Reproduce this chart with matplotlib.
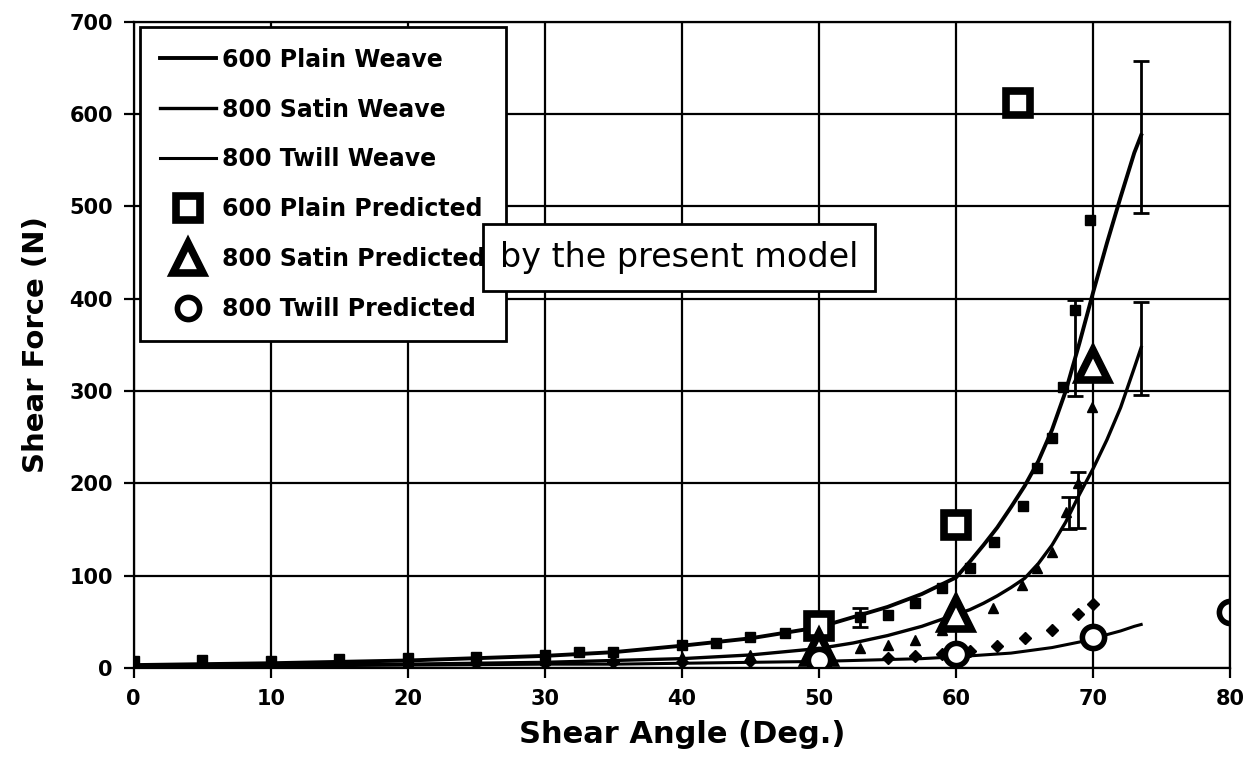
import matplotlib
matplotlib.use('Agg')
import matplotlib.pyplot as plt

plt.rcParams['font.family'] = ['DejaVu Sans']

# fitted curves
curve_x = [0, 10, 20, 30, 35, 40, 45, 50, 52.5, 55, 57.5, 60, 61, 62, 63, 64, 65, 66, 67, 68, 69, 70, 71, 72, 73, 73.5]
plain_fit = [3, 5, 8, 13, 17, 24, 32, 44, 55, 66, 80, 98, 115, 133, 152, 174, 197, 224, 258, 300, 352, 407, 460, 510, 558, 577]
satin_fit = [2, 3, 4, 6, 8, 10, 14, 21, 27, 35, 45, 58, 63, 70, 78, 87, 97, 113, 133, 158, 188, 216, 247, 282, 325, 347]
twill_fit = [1, 2, 3, 4, 4, 5, 6, 7, 8, 9, 10, 12, 13, 14, 15, 16, 18, 20, 22, 25, 28, 32, 36, 40, 45, 47]

# experimental points
plain_x = [0, 5, 10, 15, 20, 25, 30, 32.5, 35, 40, 42.5, 45, 47.5, 53, 55, 57, 59, 61, 62.8, 64.9, 65.9, 67, 67.8, 68.7, 69.8]
plain_y = [7, 9, 7, 10, 11, 12, 14, 17, 17, 25, 27, 33, 38, 55, 57, 70, 87, 108, 136, 175, 216, 249, 304, 388, 485]
satin_x = [0, 5, 10, 15, 20, 25, 30, 35, 40, 45, 50, 53, 55, 57, 59, 62.7, 64.8, 65.9, 67, 68, 68.9, 69.9]
satin_y = [3, 4, 5, 6, 7, 8, 9, 10, 12, 14, 20, 22, 25, 30, 41, 65, 90, 108, 126, 169, 200, 283]
twill_x = [0, 5, 10, 15, 20, 25, 30, 35, 40, 45, 50, 55, 57, 59, 61, 63, 65, 67, 68.9, 70]
twill_y = [2, 3, 3, 4, 4, 5, 5, 6, 6, 7, 8, 11, 13, 15, 18, 24, 32, 41, 58, 69]

# error bars (x, low, high)
err_x = [53, 68.7, 73.5, 73.5, 68.9, 68.2]
err_lo = [44, 294, 493, 296, 152, 150]
err_hi = [65, 399, 657, 396, 212, 185]

# predicted by the model
pp_x = [50, 60, 64.5]
pp_y = [45, 155, 612]
ps_x = [50, 60, 70]
ps_y = [22, 58, 328]
pt_x = [50, 60, 70, 80]
pt_y = [8, 15, 33, 60]

fig = plt.figure(figsize=(12.49, 7.73), dpi=100)
ax = fig.add_axes([0.107, 0.136, 0.878, 0.836])

ax.plot(curve_x, plain_fit, color='black', lw=2.8, label='600 Plain Weave')
ax.plot(curve_x, satin_fit, color='black', lw=2.4, label='800 Satin Weave')
ax.plot(curve_x, twill_fit, color='black', lw=2.2, label='800 Twill Weave')

ax.plot(plain_x, plain_y, 's', color='black', ms=7, label='_nolegend_')
ax.plot(satin_x, satin_y, '^', color='black', ms=7, label='_nolegend_')
ax.plot(twill_x, twill_y, 'D', color='black', ms=6, label='_nolegend_')

mid = [(a + b) / 2 for a, b in zip(err_lo, err_hi)]
half = [(b - a) / 2 for a, b in zip(err_lo, err_hi)]
ax.errorbar(err_x, mid, yerr=half, fmt='none', ecolor='black', elinewidth=2, capsize=6, capthick=2)

ax.plot(pp_x, pp_y, 's', ms=17, mfc='white', mec='black', mew=5.5, label='600 Plain Predicted')
ax.plot(ps_x, ps_y, '^', ms=22, mfc='white', mec='black', mew=5.5, label='800 Satin Predicted')
ax.plot(pt_x, pt_y, 'o', ms=16, mfc='white', mec='black', mew=4, label='800 Twill Predicted')

ax.set_xlim(0, 80)
ax.set_ylim(0, 700)
ax.set_xticks(range(0, 81, 10))
ax.set_yticks(range(0, 701, 100))
ax.grid(True, color='black', lw=1.6)
ax.set_axisbelow(True)
for s in ax.spines.values():
    s.set_linewidth(1.6)
ax.tick_params(direction='out', length=7, width=1.6, labelsize=15, pad=8)
for lab in ax.get_xticklabels() + ax.get_yticklabels():
    lab.set_fontweight('bold')

ax.set_xlabel('Shear Angle (Deg.)', fontsize=22, fontweight='bold', labelpad=8)
ax.set_ylabel('Shear Force (N)', fontsize=21, fontweight='bold', labelpad=14)

leg = ax.legend(loc='upper left', bbox_to_anchor=(0.0055, 0.991), prop={'weight': 'bold', 'size': 17},
                frameon=True, fancybox=False, edgecolor='black', handlelength=2.4, handletextpad=0.25,
                labelspacing=1.1, borderpad=0.85, borderaxespad=0, markerscale=1.0)
leg.get_frame().set_linewidth(2)
leg.get_frame().set_alpha(1)

ax.text(0.334, 0.635, 'by the present model', transform=ax.transAxes, fontsize=24, va='center', ha='left',
        bbox=dict(boxstyle='square,pad=0.5', fc='white', ec='black', lw=2), zorder=10)

fig.savefig('out.png', dpi=100)
